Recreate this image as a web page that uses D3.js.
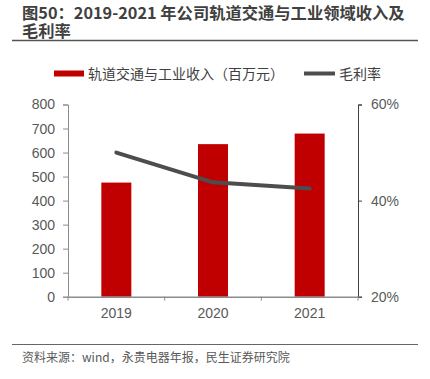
<!DOCTYPE html>
<html><head><meta charset="utf-8">
<script src="https://cdn.jsdelivr.net/npm/d3@7"></script>
<style>
body{margin:0;background:#fff;position:relative}
svg{display:block}
#title{position:absolute;left:22px;top:2.5px;width:393px;font-family:'Noto Sans CJK SC','Noto Sans',sans-serif;font-weight:bold;font-size:16.3px;line-height:18px;color:#404040}
</style>
</head><body>
<div id="title"></div>
<script>
const categories = ["2019","2020","2021"];
const revenue = [475, 635, 679];
const margin = [50.0, 43.8, 42.5];
const leftTicks = [0,100,200,300,400,500,600,700,800];
const rightTicks = [20,40,60];
const titleText = "图50：2019-2021 年公司轨道交通与工业领域收入及毛利率";
const legendLabels = ["轨道交通与工业收入（百万元）","毛利率"];
const source = "资料来源：wind，永贵电器年报，民生证券研究院";

const W=430,H=379;
d3.select("#title").text(titleText);
const svg=d3.select("body").append("svg").attr("width",W).attr("height",H);
const cjk="'Noto Sans CJK SC','Noto Sans',sans-serif";
const latin="'Liberation Sans',Arial,sans-serif";

svg.append("line").attr("x1",12).attr("x2",418).attr("y1",40.5).attr("y2",40.5).attr("stroke","#555").attr("stroke-width",1.5);

const x0=68,x1=358,yT=104.5,yB=296.7;
const xb=d3.scaleBand().domain(categories).range([x0,x1]);
const yL=d3.scaleLinear().domain([0,800]).range([yB,yT]);
const yR=d3.scaleLinear().domain([20,60]).range([yB,yT]);

// bars
svg.append("g").selectAll("rect").data(revenue).join("rect")
  .attr("x",(d,i)=>xb(categories[i])+xb.bandwidth()/2-15).attr("width",30)
  .attr("y",d=>yL(d)).attr("height",d=>yB-yL(d)).attr("fill","#C00000");

// left axis
const gl=svg.append("g").attr("transform",`translate(${x0},0)`)
  .call(d3.axisLeft(yL).tickValues(leftTicks).tickSize(5).tickPadding(8).tickFormat(d3.format("d")));
gl.selectAll("path,line").attr("stroke","#8c8c8c");
gl.selectAll("text").attr("font-family",latin).attr("font-size",14).attr("fill","#595959");

// right axis
const gr=svg.append("g").attr("transform",`translate(${x1},0)`)
  .call(d3.axisRight(yR).tickValues(rightTicks).tickSize(4).tickPadding(9).tickFormat(d=>d+"%"));
gr.selectAll("path,line").attr("stroke","#404040");
gr.selectAll("text").attr("font-family",latin).attr("font-size",14).attr("fill","#595959");

// bottom axis
const gb=svg.append("g").attr("transform",`translate(0,${yB})`)
  .call(d3.axisBottom(xb).tickSize(0).tickPadding(11));
gb.select(".domain").attr("stroke","#8c8c8c").attr("stroke-width",1.5);
gb.selectAll("text").attr("font-family",latin).attr("font-size",14).attr("fill","#595959");
// boundary ticks
svg.append("g").selectAll("line").data(categories.concat(["end"])).join("line")
  .attr("x1",(d,i)=>i<3?xb(d):x1).attr("x2",(d,i)=>i<3?xb(d):x1)
  .attr("y1",yB).attr("y2",yB+4).attr("stroke","#8c8c8c");

// line
const line=d3.line().x((d,i)=>xb(categories[i])+xb.bandwidth()/2).y(d=>yR(d));
svg.append("path").datum(margin).attr("d",line).attr("fill","none").attr("stroke","#4d4d4d")
  .attr("stroke-width",4).attr("stroke-linejoin","round").attr("stroke-linecap","round");

// legend
svg.append("rect").attr("x",54).attr("y",70.5).attr("width",30).attr("height",6).attr("fill","#C00000");
svg.append("text").attr("x",88).attr("y",78.5).attr("font-family",cjk).attr("font-size",14).attr("fill","#404040").text(legendLabels[0]);
svg.append("line").attr("x1",304).attr("x2",335).attr("y1",73.5).attr("y2",73.5).attr("stroke","#4d4d4d").attr("stroke-width",4);
svg.append("text").attr("x",339).attr("y",78.5).attr("font-family",cjk).attr("font-size",14).attr("fill","#404040").text(legendLabels[1]);

// source
svg.append("line").attr("x1",12).attr("x2",418).attr("y1",344.5).attr("y2",344.5).attr("stroke","#666").attr("stroke-width",1);
svg.append("text").attr("x",22).attr("y",362).attr("font-family",cjk).attr("font-size",12).attr("fill","#595959").text(source);
</script>
</body></html>
